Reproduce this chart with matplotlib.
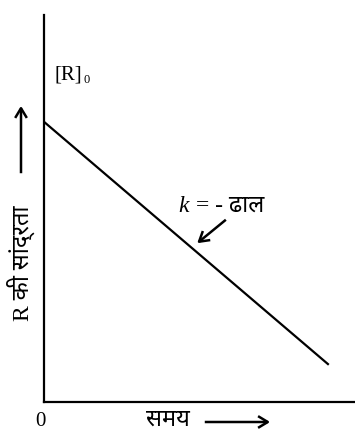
import matplotlib
matplotlib.use("Agg")
import matplotlib.pyplot as plt
from matplotlib.patches import FancyArrowPatch

# zero-order reaction: [R] falls linearly with time
time = [0.0, 9.13]
conc = [7.24, 0.98]

x_label = "समय"
y_label = "R की सांद्रता"
r0_label = "[R]"
r0_sub = "0"
slope_k = "k"
slope_label = "= - ढाल"

plt.rcParams['font.family'] = ['Liberation Serif', 'Noto Sans', 'DejaVu Sans']

W, H = 355, 432
fig = plt.figure(figsize=(W / 100, H / 100), dpi=100)
ax = fig.add_axes([44 / W, 30 / H, 1 - 44 / W, 387 / H])

ax.plot(time, conc, color="black", lw=1.6)
ax.set_xlim(0, 10)
ax.set_ylim(0, 10)
ax.set_xticks([])
ax.set_yticks([])
for s in ["top", "right"]:
    ax.spines[s].set_visible(False)
for s in ["left", "bottom"]:
    ax.spines[s].set_linewidth(1.6)


# helpers: figure pixel coords -> figure fraction
def fx(px):
    return px / W


def fy(py):
    return 1 - py / H


fig.text(fx(55), fy(75), r0_label, fontsize=15, va="center", ha="left")
fig.text(fx(83), fy(80), r0_sub, fontsize=9, va="center", ha="left")
fig.text(fx(40), fy(421), "0", fontsize=15, va="center", ha="center")
fig.text(fx(168), fy(420), x_label, fontsize=17, va="center", ha="center")
fig.text(fx(21), fy(263), y_label, fontsize=17, va="center", ha="center", rotation=90)
fig.text(fx(178), fy(206), slope_k, fontsize=17, style="italic", va="center", ha="left")
fig.text(fx(196), fy(206), slope_label, fontsize=17, va="center", ha="left")

arrow = dict(arrowstyle="->,head_length=0.5,head_width=0.3", color="black",
             lw=1.8, mutation_scale=14, capstyle="butt")
fig.add_artist(FancyArrowPatch((fx(202), fy(422)), (fx(273), fy(422)),
                               transform=fig.transFigure, **arrow))
fig.add_artist(FancyArrowPatch((fx(21), fy(176)), (fx(21), fy(103)),
                               transform=fig.transFigure, **arrow))
fig.add_artist(FancyArrowPatch((fx(228), fy(218)), (fx(195), fy(245)),
                               transform=fig.transFigure, **arrow))

fig.savefig("out.png", dpi=100)
